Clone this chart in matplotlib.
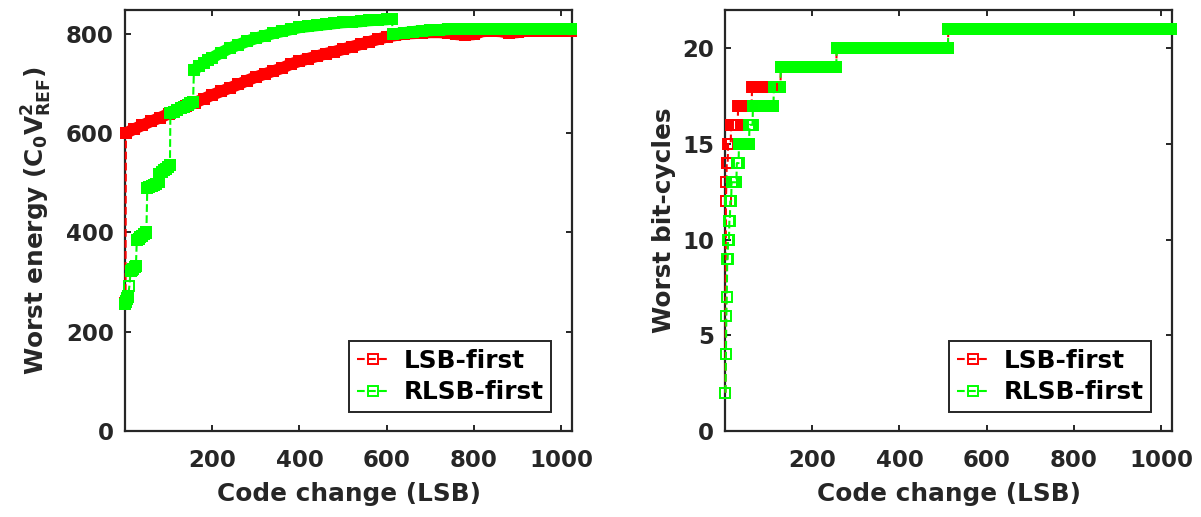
import numpy as np
import matplotlib
matplotlib.use('Agg')
import matplotlib.pyplot as plt
from matplotlib.lines import Line2D

plt.rcParams.update({
    'font.family': 'DejaVu Sans',
    'font.weight': 'bold',
    'font.size': 16.5,
    'axes.labelweight': 'bold',
    'axes.labelsize': 17.8,
    'mathtext.fontset': 'dejavusans',
    'mathtext.default': 'bf',
})

RED = '#ff0000'
GREEN = '#00ff00'
INK = '#262626'
LAST_CODE = 1023

# ---- worst energy, LSB-first (groups of consecutive codes)
lsb_energy_groups = [
    ([1], [258]),
    ([2, 20, 40, 60, 80, 100, 120, 140, 160, 180, 200, 220, 240, 260, 280,
      300, 320, 340, 360, 380, 400, 420, 440, 460, 480, 500, 520, 540, 560,
      580, 600, 620, 640, 660, 680, 700, 720, 740, 760, 780, 800, 820, 840,
      860, 880, 900, 920, 940, 960, 980, 1000, 1023],
     [600, 608, 616, 624, 631, 639, 646, 654, 661, 669, 677, 684, 691, 698,
      706, 713, 719, 725, 731, 739, 745, 750, 755, 760, 764, 769, 774, 779,
      784, 789, 794, 797, 800, 801, 802, 803, 803, 802, 799, 798, 799, 805,
      806, 805, 802, 803, 806, 806, 806, 806, 806, 806]),
]

# ---- worst energy, RLSB-first
rlsb_energy_groups = [
    ([1, 2, 3, 4, 5, 6, 7], [256, 259, 262, 265, 268, 270, 272]),
    ([10], [292]),
    ([13, 16, 19, 22, 25], [323, 325, 327, 330, 332]),
    ([27, 31, 35, 39, 43, 47, 49], [384, 387, 390, 393, 396, 399, 401]),
    ([51, 56, 61, 66, 71, 77], [490, 492, 494, 496, 498, 501]),
    ([79, 84, 89, 94, 99, 103], [518, 521, 525, 528, 532, 535]),
    ([104, 112, 120, 128, 136, 144, 150, 156],
     [640, 643, 646, 650, 653, 657, 660, 663]),
    ([158, 170, 180, 190, 200, 220, 240, 260, 280, 300, 320, 340, 360, 380,
      400, 420, 440, 460, 480, 500, 520, 540, 560, 580, 600, 612],
     [727, 735, 741, 747, 752, 762, 771, 778, 785, 791, 796, 801, 805, 809,
      813, 815, 817, 819, 821, 823, 824, 825, 827, 828, 829, 830]),
    ([614, 640, 660, 680, 700, 720, 740, 760, 780, 800, 820, 840, 860, 880,
      900, 920, 940, 960, 980, 1000, 1023],
     [799, 802, 804, 806, 807, 808, 809, 810, 810, 810, 810, 810, 810, 810,
      810, 810, 810, 810, 810, 810, 809]),
]

# ---- worst bit-cycles: first code of each step and its value
lsb_cycle_starts = [1, 2, 3, 4, 7, 14, 30, 62, 128, 256, 512]
lsb_cycle_values = [2, 12, 13, 14, 15, 16, 17, 18, 19, 20, 21]
rlsb_cycle_starts = [1, 2, 3, 4, 5, 7, 10, 12, 15, 27, 32, 56, 64, 112, 128, 256, 512]
rlsb_cycle_values = [2, 4, 6, 7, 9, 10, 11, 12, 13, 14, 15, 16, 17, 18, 19, 20, 21]

labels = ['LSB-first', 'RLSB-first']

MS = 7.0
MEW = 1.4
LW = 1.5


def expand_steps(starts, values):
    ends = starts[1:] + [LAST_CODE + 1]
    x = np.concatenate([np.arange(s, e) for s, e in zip(starts, ends)])
    y = np.concatenate([np.full(e - s, v) for s, e, v in zip(starts, ends, values)])
    return x, y


def plot_groups(ax, groups, color):
    x = np.concatenate([g[0] for g in groups])
    y = np.concatenate([g[1] for g in groups])
    ax.plot(x, y, '--s', color=color, mfc='none', ms=MS, mew=MEW, lw=LW,
            clip_on=False, zorder=3)
    # runs of consecutive codes: markers overlap into a solid band
    for gx, gy in groups:
        if len(gx) > 1:
            ax.plot(gx, gy, '-', color=color, lw=MS + MEW,
                    solid_capstyle='butt', clip_on=False, zorder=3)
            ax.plot(gx, gy, 's', color=color, mfc=color, mec=color, ms=MS,
                    mew=MEW, ls='none', clip_on=False, zorder=3)


def style_axes(ax):
    ax.tick_params(direction='in', length=4, width=1.4, top=True, right=True,
                   colors=INK)
    ax.tick_params(axis='x', pad=13)
    ax.tick_params(axis='y', pad=8)
    for s in ax.spines.values():
        s.set_linewidth(1.6)
        s.set_color(INK)
    ax.set_xlim(0, 1025)
    ax.set_xticks([200, 400, 600, 800, 1000])
    ax.set_xlabel('Code change (LSB)', color=INK, labelpad=7)


def add_legend(ax):
    handles = [Line2D([], [], ls='--', marker='s', color=c, mfc='none', ms=MS,
                      mew=MEW, lw=LW) for c in (RED, GREEN)]
    leg = ax.legend(handles, labels, loc='lower right',
                    bbox_to_anchor=(0.953, 0.046), borderaxespad=0,
                    fancybox=False, framealpha=1, edgecolor=INK,
                    handlelength=1.3, handletextpad=0.6, labelspacing=0.3,
                    borderpad=0.3, fontsize=17.8)
    leg.get_frame().set_linewidth(1.4)


fig = plt.figure(figsize=(12.01, 5.17), dpi=100)
ax1 = fig.add_axes([0.1041, 0.1663, 0.3722, 0.8143])
ax2 = fig.add_axes([0.6037, 0.1663, 0.3722, 0.8143])

plot_groups(ax1, lsb_energy_groups, RED)
plot_groups(ax1, rlsb_energy_groups, GREEN)
style_axes(ax1)
ax1.set_ylim(0, 848)
ax1.set_yticks([0, 200, 400, 600, 800])
ax1.set_ylabel(r'Worst energy (C$_0$V$^2_{REF}$)', color=INK, labelpad=9)
add_legend(ax1)

for starts, values, color in [(lsb_cycle_starts, lsb_cycle_values, RED),
                              (rlsb_cycle_starts, rlsb_cycle_values, GREEN)]:
    x, y = expand_steps(starts, values)
    ax2.plot(x, y, '--s', color=color, mfc='none', ms=MS, mew=MEW, lw=LW,
             clip_on=False, zorder=3)
style_axes(ax2)
ax2.set_ylim(0, 22)
ax2.set_yticks([0, 5, 10, 15, 20])
ax2.set_ylabel('Worst bit-cycles', color=INK)
add_legend(ax2)

fig.savefig('out.png', dpi=100)
